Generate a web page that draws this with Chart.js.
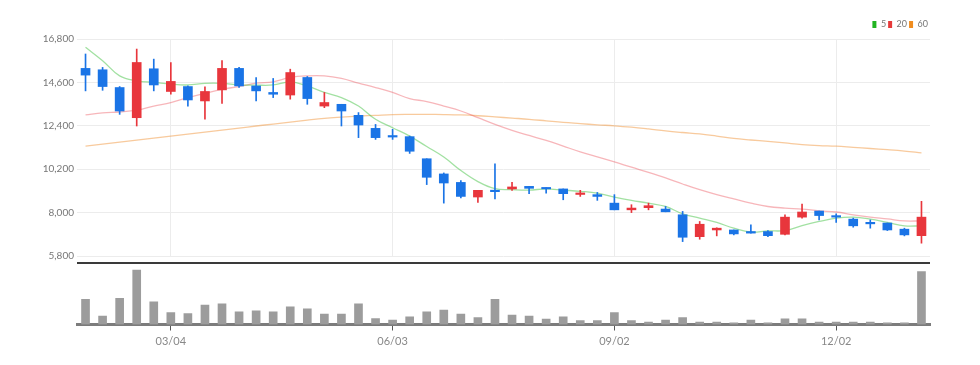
<!DOCTYPE html>
<html>
<head>
<meta charset="utf-8">
<script src="https://cdn.jsdelivr.net/npm/chart.js@4.4.1/dist/chart.umd.min.js"></script>
<style>
  body { margin: 0; background: #fff; }
  canvas { display: block; position: absolute; left: 0; }
  #priceChart { top: 0; }
  #volumeChart { top: 262px; }
</style>
</head>
<body>
<canvas id="volumeChart" width="980" height="103"></canvas>
<canvas id="priceChart" width="980" height="265"></canvas>
<script>
// weekly candles, Jan 2024 - Jan 2025
const dates = ['01/29','02/05','02/12','02/19','02/26','03/04','03/11','03/18','03/25','04/01',
  '04/08','04/15','04/22','04/29','05/06','05/13','05/20','05/27','06/03','06/10',
  '06/17','06/24','07/01','07/08','07/15','07/22','07/29','08/05','08/12','08/19',
  '08/26','09/02','09/09','09/16','09/23','09/30','10/07','10/14','10/21','10/28',
  '11/04','11/11','11/18','11/25','12/02','12/09','12/16','12/23','12/30','01/06'];
const tickLabels = ['03/04', '06/03', '09/02', '12/02'];
const priceTicks = [5800, 8000, 10200, 12400, 14600, 16800];

const openPrices = [15310,15240,14340,12810,15290,14140,14390,13660,14220,15310,
  14420,14090,13960,14850,13400,13490,12930,12270,11880,11850,
  10730,9960,9530,8790,9130,9200,9330,9260,9200,8920,
  8910,8480,8140,8250,8180,7890,6780,7120,7120,7040,
  7040,6900,7770,8080,7800,7670,7470,7470,7160,6830];
const closePrices = [14970,14390,13150,15610,14470,14650,13710,14140,15310,14420,
  14170,14000,15100,13780,13580,13150,12440,11800,11830,11110,
  9790,9500,8820,9130,9060,9300,9230,9200,8960,8990,
  8820,8140,8230,8350,8040,6750,7410,7210,6920,6960,
  6830,7770,8030,7850,7770,7330,7430,7120,6870,7770];
const highPrices = [16040,15360,14390,16290,15780,15610,14420,14370,15700,15360,
  14850,14800,15270,14900,14090,13490,13070,12470,12220,11880,
  10730,10010,9620,9130,10470,9530,9330,9260,9200,9130,
  9020,8910,8400,8480,8310,8060,7550,7230,7120,7380,
  7090,7890,8430,8080,7940,7720,7630,7470,7210,8570];
const lowPrices = [14170,14200,12980,12390,14170,14000,13400,12730,13530,14340,
  13660,13830,13750,13490,13320,12390,11800,11710,11710,11000,
  9420,8480,8740,8520,8690,9130,8960,8990,8650,8820,
  8620,8140,8000,8140,8040,6530,6650,6820,6870,6960,
  6780,6870,7720,7630,7500,7260,7210,7090,6820,6450];

const ma5 = [16380,15700,14930,14680,14600,14510,14470,14550,14550,14470,
  14460,14470,14630,14420,14090,13830,13400,12730,12300,11880,
  11350,10820,10130,9570,9210,9160,9140,9200,9140,9080,
  8990,8790,8620,8480,8310,7940,7720,7500,7210,7010,
  7070,7090,7340,7550,7720,7770,7670,7500,7330,7330];
const ma20 = [12950,13050,13100,13190,13400,13580,13830,14040,14250,14390,
  14560,14630,14850,14930,14930,14800,14560,14340,14090,13780,
  13630,13400,13150,12810,12470,12170,11910,11660,11370,11080,
  10820,10570,10300,10040,9760,9450,9160,8910,8690,8480,
  8310,8230,8180,8090,8030,7890,7770,7680,7580,7580];
const ma60 = [11370,11470,11570,11670,11770,11880,11980,12080,12180,12280,
  12390,12490,12590,12690,12780,12840,12890,12930,12970,12980,
  12980,12970,12950,12910,12850,12790,12730,12650,12570,12510,
  12450,12400,12330,12240,12140,12060,11990,11880,11760,11680,
  11610,11530,11450,11400,11370,11310,11250,11190,11120,11030];

// volume in thousand shares
const volumes = [500,166,520,1086,454,240,220,386,414,254,
  274,254,354,314,206,206,414,120,86,154,
  254,286,206,140,500,186,166,106,154,80,
  80,240,80,46,86,140,46,46,34,86,
  34,114,114,46,46,46,46,34,34,1054];

const FONT = "Lato, 'Liberation Sans', sans-serif";
Chart.defaults.font.family = FONT;

const UP = '#e8363c';
const DOWN = '#1a74e6';
const candleColors = openPrices.map((o, i) => (closePrices[i] >= o ? UP : DOWN));

const maColors = [
  { label: '5', solid: '#22b422', line: 'rgba(70,195,70,0.5)' },
  { label: '20', solid: '#e63a3a', line: 'rgba(235,80,90,0.42)' },
  { label: '60', solid: '#f08c1e', line: 'rgba(242,150,60,0.5)' }
];

function showTick(i) {
  return tickLabels.includes(dates[i]);
}

function initPriceChart(canvas) {
  const wicks = dates.map((d, i) => [lowPrices[i], highPrices[i]]);
  const bodies = dates.map((d, i) => [openPrices[i], closePrices[i]]);
  const maData = [ma5, ma20, ma60];

  const lineSets = maColors.map((m, k) => ({
    type: 'line',
    label: m.label,
    data: maData[k],
    borderColor: m.line,
    backgroundColor: m.solid,
    borderWidth: 1.3,
    pointRadius: 0,
    tension: 0.4,
    order: 2
  }));

  return new Chart(canvas, {
    type: 'bar',
    data: {
      labels: dates,
      datasets: [
        { label: 'wick', data: wicks, backgroundColor: candleColors, barThickness: 1, grouped: false, order: 1 },
        { label: 'body', data: bodies, backgroundColor: candleColors, barThickness: 9, minBarLength: 1.5, grouped: false, order: 0 },
        ...lineSets
      ]
    },
    options: {
      responsive: false,
      animation: false,
      layout: { padding: { top: 18, right: 50, bottom: 2, left: 0 } },
      plugins: {
        tooltip: { enabled: false },
        legend: {
          position: 'top',
          align: 'end',
          labels: {
            boxWidth: 4,
            boxHeight: 7,
            padding: 2,
            color: '#777',
            font: { size: 9 },
            generateLabels: () => maColors.map((m, k) => ({
              text: m.label,
              fillStyle: m.solid,
              strokeStyle: m.solid,
              lineWidth: 0,
              fontColor: '#777',
              datasetIndex: k + 2
            }))
          }
        }
      },
      scales: {
        x: {
          offset: true,
          grid: {
            offset: false,
            drawTicks: false,
            color: (ctx) => (showTick(ctx.index) ? '#ececec' : 'rgba(0,0,0,0)')
          },
          border: { display: false },
          ticks: { display: false, autoSkip: false }
        },
        y: {
          min: 5800,
          max: 16800,
          afterBuildTicks: (scale) => { scale.ticks = priceTicks.map((v) => ({ value: v })); },
          afterFit: (scale) => { scale.width = 77; },
          grid: { color: '#ececec', drawTicks: false },
          border: { display: false },
          ticks: {
            color: '#777',
            font: { size: 10 },
            padding: 3,
            callback: (v) => Number(v).toLocaleString('en-US')
          }
        }
      }
    }
  });
}

// dark rule between the price and the volume panel
const topRule = {
  id: 'topRule',
  afterDraw(chart) {
    const { ctx, chartArea } = chart;
    ctx.save();
    ctx.strokeStyle = '#3a3a3a';
    ctx.lineWidth = 2;
    ctx.beginPath();
    ctx.moveTo(chartArea.left, 1);
    ctx.lineTo(chartArea.right, 1);
    ctx.stroke();
    ctx.restore();
  }
};

function initVolumeChart(canvas) {
  return new Chart(canvas, {
    type: 'bar',
    data: {
      labels: dates,
      datasets: [{ label: 'volume', data: volumes, backgroundColor: '#9c9c9c', barThickness: 8 }]
    },
    options: {
      responsive: false,
      animation: false,
      layout: { padding: { top: 6, right: 50, bottom: 0, left: 0 } },
      plugins: { legend: { display: false }, tooltip: { enabled: false } },
      scales: {
        x: {
          offset: true,
          grid: {
            offset: false,
            drawOnChartArea: false,
            tickLength: 6,
            color: (ctx) => (showTick(ctx.index) ? '#555' : 'rgba(0,0,0,0)'),
            tickColor: (ctx) => (showTick(ctx.index) ? '#555' : 'rgba(0,0,0,0)')
          },
          border: { display: true, color: '#7c7c7c', width: 3 },
          ticks: {
            autoSkip: false,
            maxRotation: 0,
            color: '#888',
            font: { size: 11 },
            padding: 4,
            callback: (v, i) => (showTick(i) ? dates[i] : '')
          },
          afterFit: (scale) => { scale.height = 40.5; }
        },
        y: {
          min: 0,
          max: 1126,
          ticks: { display: false },
          grid: { display: false },
          border: { display: false },
          afterFit: (scale) => { scale.width = 77; }
        }
      }
    },
    plugins: [topRule]
  });
}

document.addEventListener('DOMContentLoaded', () => {
  initPriceChart(document.querySelector('#priceChart'));
  initVolumeChart(document.querySelector('#volumeChart'));
});
</script>
</body>
</html>
